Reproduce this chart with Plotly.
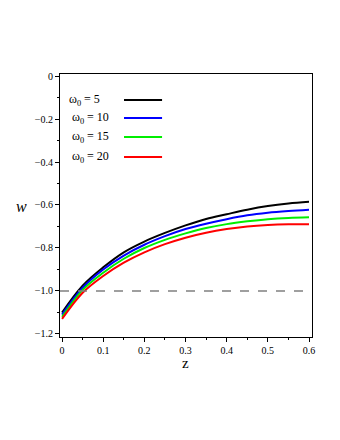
import plotly.graph_objects as go

# z values and w(z) curves
z = [0, 0.05, 0.1, 0.15, 0.2, 0.25, 0.3, 0.35, 0.4, 0.45, 0.5, 0.55, 0.6]
w_5 = [-1.10, -0.975, -0.89, -0.82, -0.77, -0.73, -0.695, -0.665, -0.643, -0.622, -0.605, -0.593, -0.585]
w_10 = [-1.11, -0.985, -0.90, -0.835, -0.785, -0.745, -0.712, -0.687, -0.666, -0.648, -0.636, -0.628, -0.622]
w_15 = [-1.12, -0.995, -0.915, -0.85, -0.80, -0.762, -0.732, -0.707, -0.689, -0.676, -0.666, -0.660, -0.657]
w_20 = [-1.13, -1.008, -0.93, -0.868, -0.82, -0.782, -0.752, -0.729, -0.712, -0.700, -0.693, -0.690, -0.690]

labels = ["ω<sub>0</sub> = 5", "ω<sub>0</sub> = 10", "ω<sub>0</sub> = 15", "ω<sub>0</sub> = 20"]
colors = ["black", "#0000ff", "#00ee00", "#ff0000"]
series = [w_5, w_10, w_15, w_20]

yticks = [0, -0.2, -0.4, -0.6, -0.8, -1.0, -1.2]
ytext = ["0", "−0.2", "−0.4", "−0.6", "−0.8", "−1.0", "−1.2"]
xticks = [0, 0.1, 0.2, 0.3, 0.4, 0.5, 0.6]

fig = go.Figure()

for w, c in zip(series, colors):
    fig.add_trace(go.Scatter(x=z, y=w, mode="lines", line=dict(color=c, width=2, shape="spline"),
                             showlegend=False, hoverinfo="skip"))

# w = -1 reference
fig.add_hline(y=-1, line=dict(color="#808080", width=1.5, dash="dash"))

# hand made legend (text then line, like the original)
leg_y = [0.901, 0.833, 0.760, 0.684]
leg_x = [0.028, 0.04, 0.04, 0.04]
for lab, c, yy, xx in zip(labels, colors, leg_y, leg_x):
    fig.add_annotation(x=xx, y=yy, xref="paper", yref="paper", text=lab, showarrow=False,
                       xanchor="left", yanchor="middle",
                       font=dict(family="Liberation Serif", size=12, color="black"))
    fig.add_shape(type="line", xref="paper", yref="paper", x0=0.254, x1=0.405, y0=yy, y1=yy,
                  line=dict(color=c, width=2))

# axis titles
fig.add_annotation(x=-0.122, y=0.497, xref="paper", yref="paper", text="<i>w</i>", showarrow=False,
                   xanchor="right", font=dict(family="Liberation Serif", size=16, color="black"))
fig.add_annotation(x=0.497, y=-0.099, xref="paper", yref="paper", text="z", showarrow=False,
                   yanchor="middle", font=dict(family="Liberation Serif", size=15, color="black"))

axis_font = dict(family="Liberation Serif", size=10, color="black")
fig.update_xaxes(range=[-0.005, 0.6073], tickvals=xticks, showline=True, linecolor="black", linewidth=1,
                 mirror=True, ticks="outside", ticklen=4, tickcolor="black", showgrid=False, zeroline=False,
                 tickfont=axis_font, minor=dict(dtick=0.05, ticks="outside", ticklen=2, tickcolor="black"))
fig.update_yaxes(range=[-1.214, 0.0093], tickvals=yticks, ticktext=ytext, showline=True, linecolor="black",
                 linewidth=1, mirror=True, ticks="outside", ticklen=4, tickcolor="black", showgrid=False,
                 zeroline=False, tickfont=axis_font,
                 minor=dict(dtick=0.1, ticks="outside", ticklen=2, tickcolor="black"))

# page body has an 8px margin, so the margins are set to land the plot where the original has it
fig.update_layout(width=340, height=440, margin=dict(l=52, r=36, t=66, b=111),
                  plot_bgcolor="white", paper_bgcolor="white")

fig.write_html("out.html")
